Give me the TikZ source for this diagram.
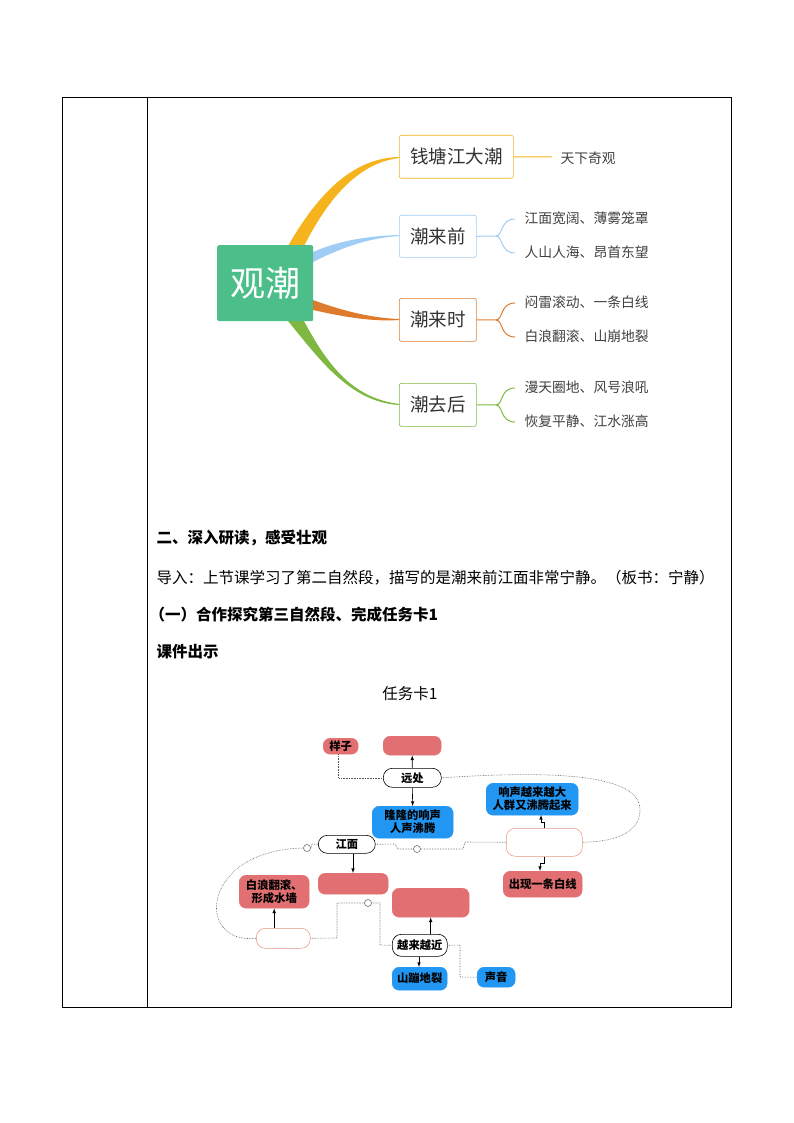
\documentclass[tikz,border=0pt]{standalone}
\usepackage{fontspec}
\setmainfont{Noto Sans CJK SC}
\begin{document}
\begin{tikzpicture}[x=1pt,y=-1pt,
  mbox/.style={draw,rounded corners=2pt,line width=0.6pt,fill=white,inner sep=0pt,anchor=north west},
  fbox/.style={rounded corners=7pt,inner sep=0pt,anchor=north west,font=\bfseries\fontsize{11.3}{13}\selectfont,align=center},
  redb/.style={fbox,fill={rgb,255:red,226;green,112;blue,114},draw={rgb,255:red,226;green,112;blue,114}},
  blueb/.style={fbox,fill={rgb,255:red,33;green,150;blue,243},draw={rgb,255:red,33;green,150;blue,243}},
  whiteb/.style={fbox,fill=white,draw=black,line width=0.6pt,rounded corners=9pt},
  pinkb/.style={fbox,fill=white,draw=red!40!brown!60,line width=0.5pt,rounded corners=9pt},
  dl/.style={densely dotted,line width=0.6pt,gray!70!black},
  ar/.style={-latex,line width=0.6pt},
  mt/.style={font=\fontsize{18.5}{20}\selectfont,text=black!80},
  sub/.style={anchor=west,font=\fontsize{13.8}{15}\selectfont,text=black!75}]
\useasboundingbox (0,0) rectangle (794,1123);
\draw[line width=0.8pt] (62,97) rectangle (731,1007);
\draw[line width=0.8pt] (147,97) -- (147,1007);
% mind map
\definecolor{cor}{HTML}{F5B41E}\definecolor{cbl}{HTML}{9FCDF5}
\definecolor{cbr}{HTML}{DE7B2C}\definecolor{cgr}{HTML}{7FB840}
\fill[cor] (288,246) .. controls (320,190) and (355,158) .. (399,157) -- (399,158) .. controls (360,163) and (330,195) .. (304,246) -- cycle;
\fill[cbl] (313,252) .. controls (340,240) and (370,236) .. (399,235) -- (399,236) .. controls (370,238) and (345,246) .. (313,262) -- cycle;
\fill[cbr] (313,300) .. controls (340,310) and (370,318) .. (399,319) -- (399,320) .. controls (370,322) and (340,316) .. (313,310) -- cycle;
\fill[cgr] (288,321) .. controls (320,360) and (350,402) .. (399,405) -- (399,404) .. controls (355,398) and (330,370) .. (304,321) -- cycle;
\node[fill={rgb,255:red,76;green,190;blue,138},rounded corners=2pt,minimum width=96pt,minimum height=76pt,inner sep=0pt,anchor=north west,text=white,font=\fontsize{35}{36}\selectfont] (gc) at (217,245) {观潮};
\node[mbox,draw=cor,minimum width=114pt,minimum height=43pt,mt] (b1) at (399,135) {钱塘江大潮};
\node[mbox,draw=cbl,minimum width=77pt,minimum height=42pt,mt] (b2) at (399,215) {潮来前};
\node[mbox,draw=cbr,minimum width=77pt,minimum height=43pt,mt] (b3) at (399,298) {潮来时};
\node[mbox,draw=cgr,minimum width=77pt,minimum height=43pt,mt] (b4) at (399,383) {潮去后};
\node[sub] (t1) at (557,158) {天下奇观};
\draw[cor,line width=1pt] (b1.east) -- (552,157);
\foreach \b/\c/\y/\ta/\tb in {b2/cbl/236/江面宽阔、薄雾笼罩/人山人海、昂首东望, b3/cbr/320/闷雷滚动、一条白线/白浪翻滚、山崩地裂, b4/cgr/405/漫天圈地、风号浪吼/恢复平静、江水涨高}{
  \draw[\c,line width=1pt] (\b.east) -- (496,\y) .. controls (503,\y) and (500,\y-17) .. (515,\y-17);
  \draw[\c,line width=1pt] (496,\y) .. controls (503,\y) and (500,\y+17) .. (515,\y+17);
  \node[sub] at (521,\y-18) {\ta};
  \node[sub] at (521,\y+16) {\tb};
}
% text
\node[anchor=west,font=\bfseries\fontsize{15.5}{17}\selectfont] (h1) at (153,538) {二、深入研读，感受壮观};
\node[anchor=west,font=\fontsize{15.5}{17}\selectfont] (h2) at (153,578) {导入：上节课学习了第二自然段，描写的是潮来前江面非常宁静。（板书：宁静）};
\node[anchor=west,font=\bfseries\fontsize{15.5}{17}\selectfont] (h3) at (146,615) {（一）合作探究第三自然段、完成任务卡1};
\node[anchor=west,font=\bfseries\fontsize{15.5}{17}\selectfont] (h4) at (153,652) {课件出示};
\node[font=\fontsize{15.5}{17}\selectfont] (h5) at (410,694) {任务卡1};
% flowchart
\node[redb,minimum width=35pt,minimum height=16pt] (yz) at (323,738) {样子};
\node[redb,minimum width=58pt,minimum height=19pt] (rt) at (383,736) {};
\node[whiteb,minimum width=58pt,minimum height=19pt] (yc) at (383,768) {远处};
\node[blueb,minimum width=81pt,minimum height=32pt] (ll) at (372,806) {隆隆的响声\\人声沸腾};
\node[whiteb,minimum width=57pt,minimum height=18pt] (jm) at (318,835) {江面};
\node[blueb,minimum width=92pt,minimum height=32pt] (xs) at (486,783) {响声越来越大\\人群又沸腾起来};
\node[pinkb,minimum width=76pt,minimum height=28pt] (wr) at (506,828) {};
\node[redb,minimum width=79pt,minimum height=26pt] (cx) at (503,871) {出现一条白线};
\node[redb,minimum width=70pt,minimum height=21pt] (re) at (318,873) {};
\node[redb,minimum width=70pt,minimum height=33pt] (bl) at (239,875) {白浪翻滚、\\形成水墙};
\node[redb,minimum width=77pt,minimum height=29pt] (rb) at (392,888) {};
\node[pinkb,minimum width=54pt,minimum height=20pt] (wl) at (256,928) {};
\node[whiteb,minimum width=55pt,minimum height=22pt] (yj) at (392,934) {越来越近};
\node[blueb,minimum width=55pt,minimum height=23pt] (sb) at (392,967) {山蹦地裂};
\node[blueb,minimum width=38pt,minimum height=20pt] (sy) at (477,967) {声音};
\draw[ar] (yc.north) -- (rt.south);
\draw[ar] (yc.south) -- (ll.north);
\draw[dl] (yz.south) ++(-2,0) coordinate (c1) -- (c1|-yc.west) -- (yc.west);
\draw[dl] (yc.east) .. controls (560,770) and (640,775) .. (640,810) .. controls (640,835) and (610,842) .. (wr.east);
\coordinate (c2) at (417,849);
\draw[dl] (jm.east) -- (395,844) -- (398,849) -- (c2) ++(4,0) -- (463,849) -- (465,842) -- (wr.west);
\draw[gray!70!black,fill=white,line width=0.5pt] (c2) circle (3.5);
\coordinate (c3) at (307,848);
\draw[dl] (jm.west) -- (312,844) -- (311,848);
\draw[dl] (303.5,848) .. controls (200,850) and (195,945) .. (wl.west);
\draw[gray!70!black,fill=white,line width=0.5pt] (c3) circle (3.5);
\draw[ar] (jm.south -| 353,0) -- (353,873);
\draw[ar] (wl.north -| bl.south) -- (bl.south);
\coordinate (c4) at (368,903);
\draw[dl] (wl.east) -- (337,938) -- (337,903) -- (364.5,903);
\draw[dl] (371.5,903) -- (380,903) -- (380,945) -- (yj.west);
\draw[gray!70!black,fill=white,line width=0.5pt] (c4) circle (3.5);
\draw[ar] (yj.north -| rb.south) -- (rb.south);
\draw[ar] (yj.south -| 419,0) -- (419,967);
\draw[dl] (yj.east) -- (460,945) -- (460,977) -- (sy.west);
\draw[ar] (wr.north -| 544,0) -- (544,822) -- (541,822) -- (541,815);
\draw[ar] (wr.south -| 544,0) -- (544,863) -- (540,863) -- (540,871);
\end{tikzpicture}
\end{document}
